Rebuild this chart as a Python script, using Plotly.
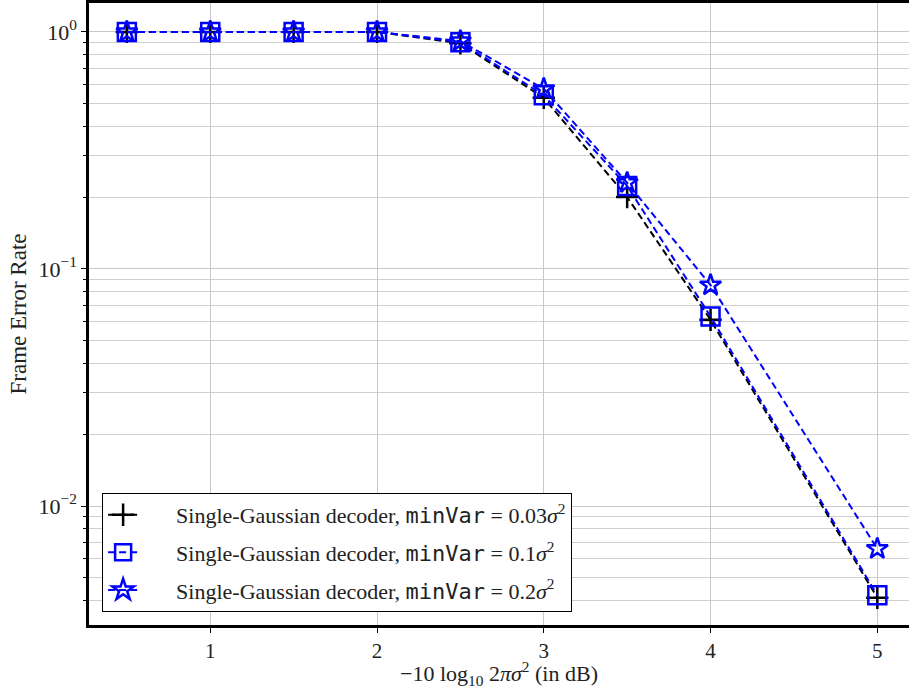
import plotly.graph_objects as go

x_vals = [0.5, 1.0, 1.5, 2.0, 2.5, 3.0, 3.5, 4.0, 5.0]
fer_003 = [1.0, 1.0, 1.0, 1.0, 0.895, 0.527, 0.201, 0.061, 0.0041]
fer_01 = [1.0, 1.0, 1.0, 1.0, 0.905, 0.54, 0.224, 0.063, 0.0042]
fer_02 = [1.0, 1.0, 1.0, 1.0, 0.915, 0.575, 0.231, 0.0855, 0.0066]

mono = "<span style=\"font-family:'DejaVu Sans Mono'\">minVar</span>"
pad = "\u00a0\u00a0\u00a0\u00a0\u00a0\u00a0"
names = [
    pad + "Single-Gaussian decoder, " + mono + " = 0.03<i>σ</i><sup>2</sup>",
    pad + "Single-Gaussian decoder, " + mono + " = 0.1<i>σ</i><sup>2</sup>",
    pad + "Single-Gaussian decoder, " + mono + " = 0.2<i>σ</i><sup>2</sup>",
]
series = [fer_003, fer_01, fer_02]
colors = ["black", "#0000ff", "#0000ff"]
symbols = ["cross-thin-open", "square-open", "star-open"]
sizes = [16, 18, 16]

fig = go.Figure()
for i, (y, n, c, s, sz) in enumerate(zip(series, names, colors, symbols, sizes)):
    fig.add_trace(go.Scatter(
        x=x_vals, y=y, name=n, mode="lines+markers", legendgroup=f"g{i}",
        line=dict(color=c, width=2, dash="7px,4px"),
        marker=dict(symbol=s, size=sz, color=c, line=dict(color=c, width=2.5)),
    ))

minor_vals = [m * 10 ** e for e in (-3, -2, -1, 0) for m in range(2, 10)]

fig.update_layout(
    width=909, height=689,
    margin=dict(l=89, r=0, t=3, b=64),
    paper_bgcolor="white", plot_bgcolor="white",
    font=dict(family="Liberation Serif", size=22, color="#222"),
    showlegend=True,
    legend=dict(
        x=0.016, y=0.021, xanchor="left", yanchor="bottom",
        bordercolor="black", borderwidth=1, bgcolor="white",
        font=dict(size=22, family="Liberation Serif", color="#222"),
        tracegroupgap=6,
    ),
    xaxis=dict(
        range=[0.273, 5.19],
        tickvals=[1, 2, 3, 4, 5],
        ticks="outside", ticklen=5, tickcolor="black",
        showline=True, linecolor="black", linewidth=2.5, mirror=True,
        showgrid=True, gridcolor="#c8c8c8", gridwidth=1,
        zeroline=False,
        tickfont=dict(size=21),
        title=dict(text="−10 log<sub>10</sub> 2<i>πσ</i><sup>2</sup> (in dB)", font=dict(size=22), standoff=0),
    ),
    yaxis=dict(
        type="log",
        range=[-2.502, 0.122],
        tickvals=[0.01, 0.1, 1],
        ticktext=["10<sup>−2</sup>", "10<sup>−1</sup>", "10<sup>0</sup>"],
        ticks="outside", ticklen=5, tickcolor="black",
        showline=True, linecolor="black", linewidth=2.5,
        showgrid=True, gridcolor="#c8c8c8", gridwidth=1,
        zeroline=False,
        tickfont=dict(size=22),
        minor=dict(tickvals=minor_vals, showgrid=True, gridcolor="#d0d0d0", gridwidth=1,
                   ticks="outside", ticklen=3, tickcolor="black"),
        title=dict(text="Frame Error Rate", font=dict(size=23), standoff=6),
    ),
)

fig.write_html("out.html")
